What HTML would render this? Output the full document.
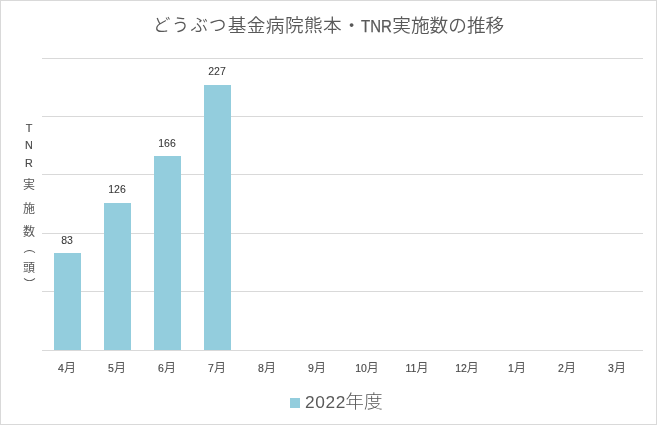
<!DOCTYPE html>
<html lang="ja">
<head>
<meta charset="utf-8">
<title>どうぶつ基金病院熊本・TNR実施数の推移</title>
<style>
html,body{margin:0;padding:0;background:#fff;}
body{width:657px;height:425px;overflow:hidden;position:relative;font-family:"Liberation Sans","Noto Sans CJK JP",sans-serif;}
#chart{position:absolute;left:0;top:0;width:657px;height:425px;box-sizing:border-box;border:1px solid #d9d9d9;background:#fff;}
.abs{position:absolute;white-space:nowrap;}
.grid{position:absolute;left:42px;width:601px;height:1px;background:#d9d9d9;}
.bar{position:absolute;width:27px;background:#93cddd;}
.title{left:153.1px;top:12px;height:28px;line-height:28px;font-size:18.67px;color:#595959;font-family:"Liberation Sans","Noto Sans CJK JP",sans-serif;font-weight:350;}
.title .k{letter-spacing:0.4px;}
.title .h{font-size:17.4px;letter-spacing:1.27px;position:relative;left:0px;top:-1px;}
.title .dot{position:relative;left:0.2px;}
.title .lat{display:inline-block;font-family:"Liberation Sans",sans-serif;font-weight:400;font-size:16.2px;width:31.5px;vertical-align:baseline;}
.title .lat i{display:inline-block;font-style:normal;transform:scaleX(0.926);transform-origin:0 50%;margin-left:-0.2px;-webkit-text-stroke:0.25px #595959;}
.dl{width:60px;text-align:center;font-size:10.5px;line-height:12px;height:12px;color:#383838;-webkit-text-stroke:0.08px #383838;font-family:"Liberation Sans",sans-serif;}
.xl{width:50px;text-align:center;font-size:12px;line-height:14px;height:14px;top:361px;color:#595959;font-family:"Liberation Sans","Noto Sans CJK JP",sans-serif;}
.xl .n{font-size:10.5px;color:#4a4a4a;-webkit-text-stroke:0.15px #4a4a4a;}
.yt{left:19px;width:20px;text-align:center;font-size:12px;line-height:14px;height:14px;color:#595959;font-family:"Noto Sans CJK JP",sans-serif;}
.yt.lat{font-family:"Liberation Sans",sans-serif;font-size:10.8px;color:#4a4a4a;-webkit-text-stroke:0.15px #4a4a4a;}
.yt.v{writing-mode:vertical-rl;width:14px;height:12px;left:22px;line-height:14px;}
.lg{left:305px;top:388px;font-weight:300;height:24px;line-height:24px;font-size:18.67px;color:#595959;font-family:"Noto Sans CJK JP",sans-serif;}
.lg .n{font-family:"Liberation Sans",sans-serif;font-weight:400;font-size:17.3px;letter-spacing:0.6px;margin-right:-0.5px;}
.sw{position:absolute;left:290px;top:398px;width:10px;height:10px;background:#93cddd;}
</style>
</head>
<body>
<div id="chart"></div>
<div class="abs title"><span class="h">どうぶつ</span><span class="k">基金病院熊本</span><span class="dot">・</span><span class="lat"><i>TNR</i></span>実施数の推移</div>

<div class="grid" style="top:58px"></div>
<div class="grid" style="top:116px"></div>
<div class="grid" style="top:174px"></div>
<div class="grid" style="top:233px"></div>
<div class="grid" style="top:291px"></div>
<div class="grid" style="top:350px"></div>

<div class="bar" style="left:54px;top:253px;height:97px"></div>
<div class="bar" style="left:104px;top:203px;height:147px"></div>
<div class="bar" style="left:154px;top:156px;height:194px"></div>
<div class="bar" style="left:204px;top:85px;height:265px"></div>

<div class="abs dl" style="left:37px;top:234px">83</div>
<div class="abs dl" style="left:87px;top:183px">126</div>
<div class="abs dl" style="left:137px;top:137px">166</div>
<div class="abs dl" style="left:187px;top:65px">227</div>

<div class="abs yt lat" style="top:121px">T</div>
<div class="abs yt lat" style="top:138px">N</div>
<div class="abs yt lat" style="top:156px">R</div>
<div class="abs yt" style="top:177px">実</div>
<div class="abs yt" style="top:201px">施</div>
<div class="abs yt" style="top:224px">数</div>
<div class="abs yt v" style="top:241px">（</div>
<div class="abs yt" style="top:260px">頭</div>
<div class="abs yt v" style="top:278px">）</div>

<div class="abs xl" style="left:42px"><span class="n">4</span>月</div>
<div class="abs xl" style="left:92px"><span class="n">5</span>月</div>
<div class="abs xl" style="left:142px"><span class="n">6</span>月</div>
<div class="abs xl" style="left:192px"><span class="n">7</span>月</div>
<div class="abs xl" style="left:242px"><span class="n">8</span>月</div>
<div class="abs xl" style="left:292px"><span class="n">9</span>月</div>
<div class="abs xl" style="left:342px"><span class="n">10</span>月</div>
<div class="abs xl" style="left:392px"><span class="n">11</span>月</div>
<div class="abs xl" style="left:442px"><span class="n">12</span>月</div>
<div class="abs xl" style="left:492px"><span class="n">1</span>月</div>
<div class="abs xl" style="left:542px"><span class="n">2</span>月</div>
<div class="abs xl" style="left:592px"><span class="n">3</span>月</div>

<div class="sw"></div>
<div class="abs lg"><span class="n">2022</span>年度</div>
</body>
</html>
